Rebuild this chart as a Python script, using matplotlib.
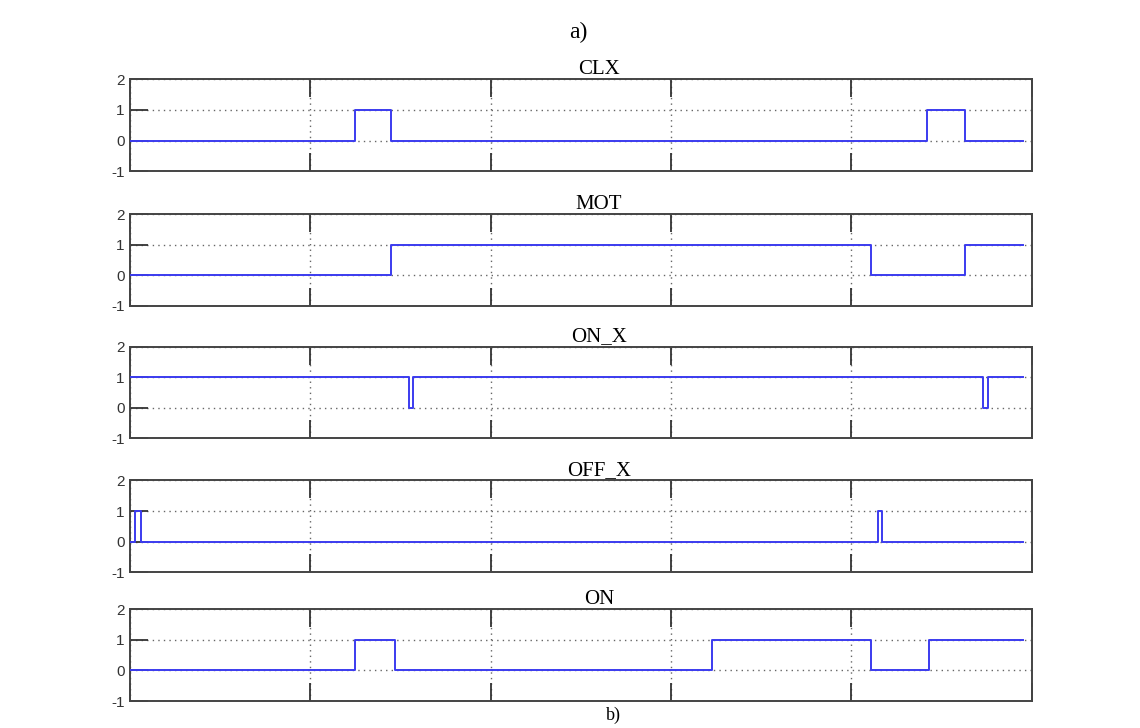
import matplotlib.pyplot as plt
import numpy as np

# signal change points (time, level), drawn as steps
names = ["CLX", "MOT", "ON_X", "OFF_X", "ON"]
clx_t = [0, 1.25, 1.45, 4.42, 4.63, 4.95]
clx_v = [0, 1, 0, 1, 0, 0]
mot_t = [0, 1.45, 4.11, 4.63, 4.95]
mot_v = [0, 1, 0, 1, 1]
onx_t = [0, 1.55, 1.57, 4.73, 4.76, 4.95]
onx_v = [1, 0, 1, 0, 1, 1]
offx_t = [0, 0.03, 0.06, 4.15, 4.17, 4.95]
offx_v = [0, 1, 0, 1, 0, 0]
on_t = [0, 1.25, 1.47, 3.23, 4.11, 4.43, 4.95]
on_v = [0, 1, 0, 1, 0, 1, 1]

signals = [(clx_t, clx_v), (mot_t, mot_v), (onx_t, onx_v), (offx_t, offx_v), (on_t, on_v)]
x_ticks = [0, 1, 2, 3, 4, 5]
y_ticks = [-1, 0, 1, 2]

fig = plt.figure(figsize=(11.4, 7.28), dpi=100)
bottoms = [0.765, 0.580, 0.398, 0.214, 0.037]
left = 0.114
width = 0.791
height = 0.126

for i in range(len(names)):
    ax = fig.add_axes([left, bottoms[i], width, height])
    t, v = signals[i]
    ax.plot(t, v, drawstyle="steps-post", color="#3b3bef", lw=1.4, zorder=3)
    ax.set_xlim(0, 5)
    ax.set_ylim(-1, 2)
    ax.set_xticks(x_ticks)
    ax.set_xticklabels([])
    ax.set_yticks(y_ticks)
    ax.set_yticklabels([str(y) for y in y_ticks], fontsize=11, color="#333333",
                       fontfamily="Liberation Sans")
    ax.tick_params(axis="x", direction="in", length=13, width=1.3, top=True,
                   bottom=True, color="#333333")
    ax.tick_params(axis="y", direction="in", length=13, width=1.3, right=False,
                   color="#333333", pad=4)
    ax.grid(True, linestyle=(0, (1, 3)), color="#666666", lw=1.0)
    for s in ax.spines.values():
        s.set_color("#444444")
        s.set_linewidth(1.4)
    ax.set_title(names[i], fontsize=15, fontfamily="Liberation Serif", pad=2, x=0.52)

fig.text(0.507, 0.955, "a)", fontsize=17, fontfamily="Liberation Serif", ha="center", va="center")
fig.text(0.538, 0.018, "b)", fontsize=13, fontfamily="Liberation Serif", ha="center", va="center")

plt.savefig("out.png")
